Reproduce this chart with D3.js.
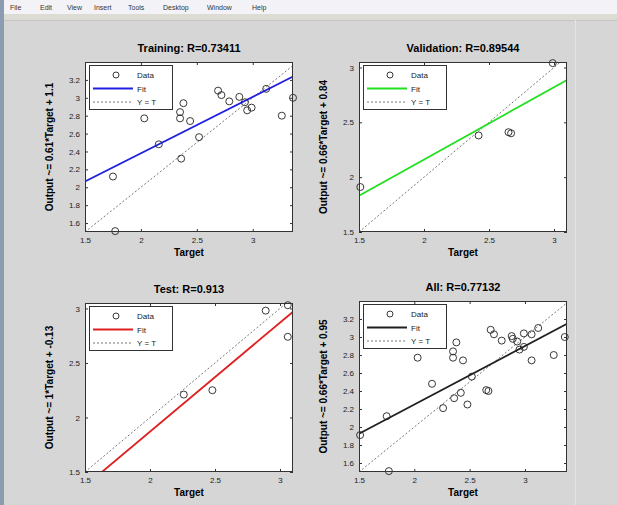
<!DOCTYPE html>
<html>
<head>
<meta charset="utf-8">
<script src="https://cdn.jsdelivr.net/npm/d3@7"></script>
<style>
  body { margin: 0; background: #d6d6d6; }
  text { font-family: "Liberation Sans", Arial, sans-serif; }
</style>
</head>
<body>
<div id="chart"></div>
<script>
// values
const trainTarget = [1.75, 1.77, 2.03, 2.16, 2.36, 2.35, 2.35, 2.38, 2.44, 2.52, 2.69, 2.72, 2.79, 2.88, 2.93, 2.95, 2.99, 3.12, 3.26, 3.36];
const trainOutput = [2.12, 1.51, 2.77, 2.48, 2.32, 2.84, 2.77, 2.94, 2.74, 2.56, 3.08, 3.03, 2.96, 3.01, 2.95, 2.86, 2.89, 3.10, 2.80, 3.00];
const valTarget = [1.51, 2.42, 2.65, 2.67, 2.99];
const valOutput = [1.91, 2.38, 2.41, 2.40, 3.04];
const testTarget = [2.26, 2.48, 2.89, 3.06, 3.06];
const testOutput = [2.21, 2.25, 2.98, 3.03, 2.74];
const allTarget = trainTarget.concat(valTarget, testTarget);
const allOutput = trainOutput.concat(valOutput, testOutput);

const titles = ['Training: R=0.73411', 'Validation: R=0.89544', 'Test: R=0.913', 'All: R=0.77132'];
const yLabels = ['Output ~= 0.61*Target + 1.1', 'Output ~= 0.66*Target + 0.84', 'Output ~= 1*Target + -0.13', 'Output ~= 0.66*Target + 0.95'];
const fitSlopes = [0.63, 0.66, 1, 0.65];
const fitIntercepts = [1.12, 0.84, -0.13, 0.95];
const fitColors = ['#2020e0', '#20e020', '#e02020', '#202020'];
const xTicksA = [1.5, 2, 2.5, 3];
const yTicksFine = [1.6, 1.8, 2, 2.2, 2.4, 2.6, 2.8, 3, 3.2];
const yTicksCoarse = [1.5, 2, 2.5, 3];
const menuItems = ['File', 'Edit', 'View', 'Insert', 'Tools', 'Desktop', 'Window', 'Help'];

const W = 617, H = 505;

const svg = d3.select('#chart').append('svg')
  .attr('width', W).attr('height', H);

svg.append('rect').attr('width', W).attr('height', H).attr('fill', '#d6d6d6');

// window chrome
svg.append('rect').attr('x', 0).attr('y', 0).attr('width', W).attr('height', 14).attr('fill', '#f3f3f7');
svg.append('rect').attr('x', 0).attr('y', 14).attr('width', W).attr('height', 6).attr('fill', '#dcdcd4');
svg.append('line').attr('x1', 0).attr('x2', W).attr('y1', 20.5).attr('y2', 20.5).attr('stroke', '#c4c4c4');
svg.append('rect').attr('x', 0).attr('y', 0).attr('width', 4).attr('height', H).attr('fill', '#8c9cb0');
svg.append('line').attr('x1', 575.5).attr('x2', 575.5).attr('y1', 20).attr('y2', H).attr('stroke', '#e4e4e4');
const menuX = [10, 40, 67, 94, 128, 163, 207, 252];
svg.selectAll('.menu').data(menuItems).enter().append('text')
  .attr('class', 'menu')
  .attr('x', (d, i) => menuX[i]).attr('y', 10)
  .attr('font-size', 7).attr('fill', '#333')
  .text((d) => d);

const panels = [
  { t: trainTarget, o: trainOutput, box: [85, 62, 293, 232], xd: [1.5, 3.36], yd: [1.5, 3.4], yt: yTicksFine },
  { t: valTarget, o: valOutput, box: [359, 62, 567, 232], xd: [1.5, 3.1], yd: [1.5, 3.05], yt: yTicksCoarse },
  { t: testTarget, o: testOutput, box: [85, 303, 293, 472], xd: [1.5, 3.1], yd: [1.5, 3.05], yt: yTicksCoarse },
  { t: allTarget, o: allOutput, box: [359, 301, 567, 472], xd: [1.5, 3.38], yd: [1.5, 3.4], yt: yTicksFine }
];

panels.forEach((p, k) => {
  const [x0, y0, x1, y1] = p.box;
  const x = d3.scaleLinear().domain(p.xd).range([x0, x1]);
  const y = d3.scaleLinear().domain(p.yd).range([y1, y0]);
  const g = svg.append('g');

  g.append('rect').attr('x', x0).attr('y', y0).attr('width', x1 - x0).attr('height', y1 - y0)
    .attr('fill', '#fff');

  const clipId = 'clip' + k;
  g.append('clipPath').attr('id', clipId).append('rect')
    .attr('x', x0).attr('y', y0).attr('width', x1 - x0).attr('height', y1 - y0);

  // axes with inward ticks on all four sides
  const fmt = (d) => String(d);
  g.append('g').attr('transform', `translate(0,${y1})`)
    .call(d3.axisBottom(x).tickValues(xTicksA).tickSizeInner(-3).tickSizeOuter(0).tickPadding(5).tickFormat(fmt));
  g.append('g').attr('transform', `translate(0,${y0})`)
    .call(d3.axisTop(x).tickValues(xTicksA).tickSizeInner(-3).tickSizeOuter(0).tickFormat(''));
  g.append('g').attr('transform', `translate(${x0},0)`)
    .call(d3.axisLeft(y).tickValues(p.yt).tickSizeInner(-3).tickSizeOuter(0).tickPadding(5).tickFormat(fmt));
  g.append('g').attr('transform', `translate(${x1},0)`)
    .call(d3.axisRight(y).tickValues(p.yt).tickSizeInner(-3).tickSizeOuter(0).tickFormat(''));
  g.selectAll('.domain').remove();
  g.selectAll('.tick line').attr('stroke', '#333');
  g.selectAll('.tick text').attr('font-size', 8).attr('fill', '#222')
    .attr('font-family', '"Liberation Sans", Arial, sans-serif');

  const plot = g.append('g').attr('clip-path', `url(#${clipId})`);

  // Y = T
  const lo = Math.max(p.xd[0], p.yd[0]), hi = Math.min(p.xd[1], p.yd[1]);
  plot.append('line')
    .attr('x1', x(lo)).attr('y1', y(lo)).attr('x2', x(hi)).attr('y2', y(hi))
    .attr('stroke', '#777').attr('stroke-width', 1).attr('stroke-dasharray', '2,2');

  // fit line
  const f = (v) => fitSlopes[k] * v + fitIntercepts[k];
  plot.append('line')
    .attr('x1', x(p.xd[0])).attr('y1', y(f(p.xd[0])))
    .attr('x2', x(p.xd[1])).attr('y2', y(f(p.xd[1])))
    .attr('stroke', fitColors[k]).attr('stroke-width', 1.8);

  // data circles
  g.selectAll('.pt').data(p.t).enter().append('circle')
    .attr('class', 'pt')
    .attr('cx', (d) => x(d)).attr('cy', (d, i) => y(p.o[i]))
    .attr('r', 3.5).attr('fill', 'none').attr('stroke', '#222').attr('stroke-width', 0.9);

  // frame
  g.append('rect').attr('x', x0 + 0.5).attr('y', y0 + 0.5).attr('width', x1 - x0 - 1).attr('height', y1 - y0 - 1)
    .attr('fill', 'none').attr('stroke', '#333');

  // legend
  const lx = x0 + 4, ly = y0 + 3;
  const leg = g.append('g');
  leg.append('rect').attr('x', lx + 0.5).attr('y', ly + 0.5).attr('width', 83).attr('height', 44)
    .attr('fill', '#fff').attr('stroke', '#333');
  const rows = ['Data', 'Fit', 'Y = T'];
  rows.forEach((r, i) => {
    const ry = ly + 10 + i * 13.5;
    if (i === 0) {
      leg.append('circle').attr('cx', lx + 27).attr('cy', ry).attr('r', 3)
        .attr('fill', 'none').attr('stroke', '#222').attr('stroke-width', 0.9);
    } else {
      leg.append('line').attr('x1', lx + 4).attr('x2', lx + 44).attr('y1', ry).attr('y2', ry)
        .attr('stroke', i === 1 ? fitColors[k] : '#777')
        .attr('stroke-width', i === 1 ? 1.8 : 1)
        .attr('stroke-dasharray', i === 1 ? null : '2,2');
    }
    leg.append('text').attr('x', lx + 48).attr('y', ry + 3)
      .attr('font-size', 8).attr('fill', '#222').text(r);
  });

  // titles and labels
  g.append('text').attr('x', (x0 + x1) / 2).attr('y', y0 - 10)
    .attr('text-anchor', 'middle').attr('font-size', 11).attr('font-weight', 'bold')
    .text(titles[k]);
  g.append('text').attr('x', (x0 + x1) / 2).attr('y', y1 + 24)
    .attr('text-anchor', 'middle').attr('font-size', 10).attr('font-weight', 'bold')
    .text('Target');
  g.append('text')
    .attr('transform', `translate(${x0 - 32},${(y0 + y1) / 2}) rotate(-90)`)
    .attr('text-anchor', 'middle').attr('font-size', 10).attr('font-weight', 'bold')
    .text(yLabels[k]);
});
</script>
</body>
</html>
